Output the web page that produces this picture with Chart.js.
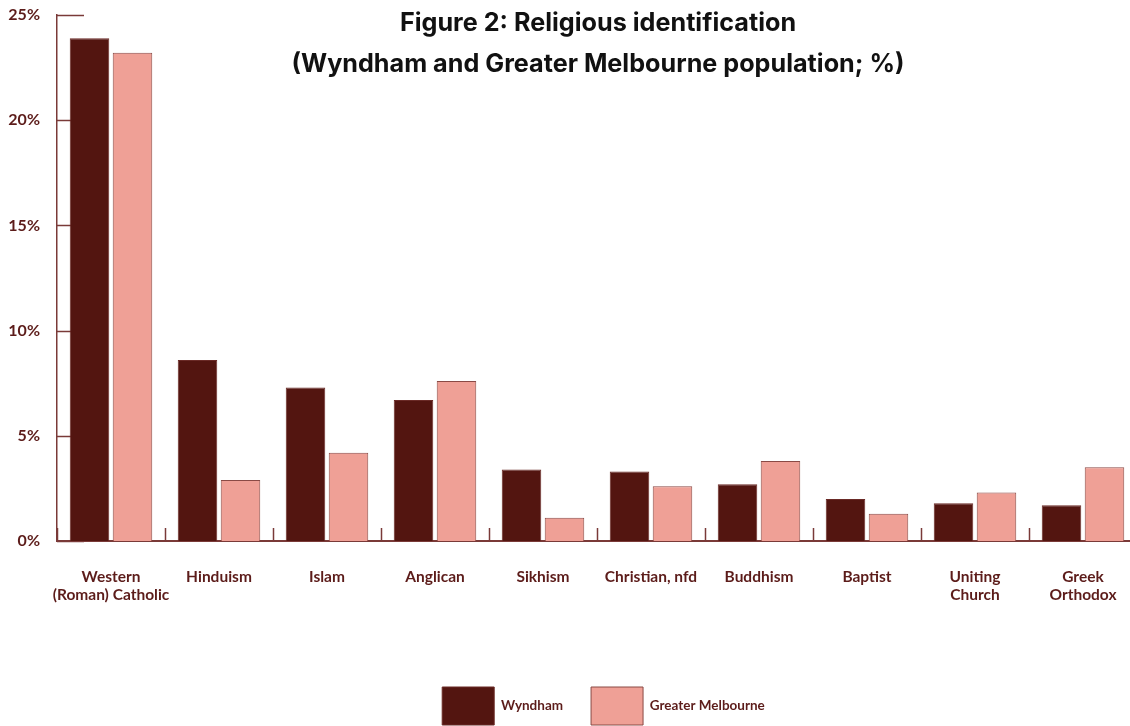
<!DOCTYPE html>
<html>
<head>
<meta charset="utf-8">
<script src="https://cdn.jsdelivr.net/npm/chart.js@4.4.1/dist/chart.umd.min.js"></script>
<style>
  html, body { margin: 0; padding: 0; background: #ffffff; }
  body { width: 1130px; height: 726px; overflow: hidden; position: relative; }
  #wrap { position: absolute; left: 0; top: 0; width: 1160px; height: 735px; }
  #title {
    position: absolute; left: 248px; top: 2px; width: 700px;
    text-align: center; font-family: Inter, Roboto, sans-serif; font-weight: 700;
    font-size: 25.2px; line-height: 41px; color: #111111; z-index: 2;
  }
</style>
</head>
<body>
<div id="wrap">
  <canvas id="chart" width="1160" height="735"></canvas>
</div>
<div id="title">Figure 2: Religious identification<br>(Wyndham and Greater Melbourne population; %)</div>
<script>
// Religious affiliation shares, per cent of population
const categories = [
  ['Western', '(Roman) Catholic'], 'Hinduism', 'Islam', 'Anglican', 'Sikhism',
  'Christian, nfd', 'Buddhism', 'Baptist', ['Uniting', 'Church'], ['Greek', 'Orthodox']
];
const wyndham = [23.9, 8.6, 7.3, 6.7, 3.4, 3.3, 2.7, 2.0, 1.8, 1.7];
const greaterMelbourne = [23.2, 2.9, 4.2, 7.6, 1.1, 2.6, 3.8, 1.3, 2.3, 3.5];
const yTicks = [0, 5, 10, 15, 20, 25];

const MAROON = '#5c1c1a';
const AXIS = '#7a3a38';

// Short inward tick marks on both axes, drawn underneath the bars
const axisMarks = {
  id: 'axisMarks',
  beforeDatasetsDraw(chart) {
    const { ctx, scales: { x, y } } = chart;
    ctx.save();
    ctx.strokeStyle = AXIS;
    ctx.lineWidth = 1.5;
    yTicks.forEach(v => {
      const py = Math.round(y.getPixelForValue(v)) + 0.5;
      ctx.beginPath();
      ctx.moveTo(x.left, py);
      ctx.lineTo(x.left + 27, py);
      ctx.stroke();
    });
    for (let i = 0; i <= categories.length; i++) {
      const px = Math.round(x.getPixelForValue(i - 0.5)) + 0.5;
      ctx.beginPath();
      ctx.moveTo(px, y.bottom);
      ctx.lineTo(px, y.bottom - 13);
      ctx.stroke();
    }
    ctx.restore();
  }
};

// Centre the legend under the bar groups rather than the whole canvas
const legendShift = {
  id: 'legendShift',
  afterLayout(chart) {
    if (chart.legend) {
      chart.legend.left += 35;
      chart.legend.right += 35;
    }
  }
};

new Chart(document.getElementById('chart'), {
  type: 'bar',
  data: {
    labels: categories,
    datasets: [
      {
        label: 'Wyndham',
        data: wyndham,
        backgroundColor: '#531510',
        borderColor: '#6a2a26',
        borderWidth: 1,
        categoryPercentage: 0.796,
        barPercentage: 0.92
      },
      {
        label: 'Greater Melbourne',
        data: greaterMelbourne,
        backgroundColor: '#efa096',
        borderColor: '#8a4a45',
        borderWidth: 1,
        categoryPercentage: 0.796,
        barPercentage: 0.92
      }
    ]
  },
  options: {
    responsive: false,
    animation: false,
    layout: { padding: { left: 0, right: 23, top: 15, bottom: 0 } },
    scales: {
      x: {
        offset: true,
        grid: { display: false, drawTicks: false },
        border: { display: true, color: AXIS, width: 2 },
        ticks: {
          color: MAROON,
          padding: 27,
          maxRotation: 0,
          autoSkip: false,
          font: { family: 'Lato', weight: 'bold', size: 15.5, lineHeight: 1.14 }
        },
        afterFit(s) { s.height = 118; s.paddingLeft = 0; s.paddingRight = 0; }
      },
      y: {
        min: 0,
        max: 25,
        grid: { display: false, drawTicks: false },
        border: { display: true, color: AXIS, width: 1.5 },
        ticks: {
          stepSize: 5,
          color: MAROON,
          padding: 17,
          font: { family: 'Lato', weight: 'bold', size: 16 },
          callback: v => v + '%'
        },
        afterFit(s) { s.width = 57; s.paddingTop = 0; s.paddingBottom = 0; }
      }
    },
    plugins: {
      title: { display: false },
      tooltip: { enabled: false },
      legend: {
        position: 'bottom',
        labels: {
          boxWidth: 52,
          boxHeight: 38,
          padding: 28,
          color: MAROON,
          font: { family: 'Lato', weight: 'bold', size: 13.5 }
        }
      }
    }
  },
  plugins: [axisMarks, legendShift]
});
</script>
</body>
</html>
